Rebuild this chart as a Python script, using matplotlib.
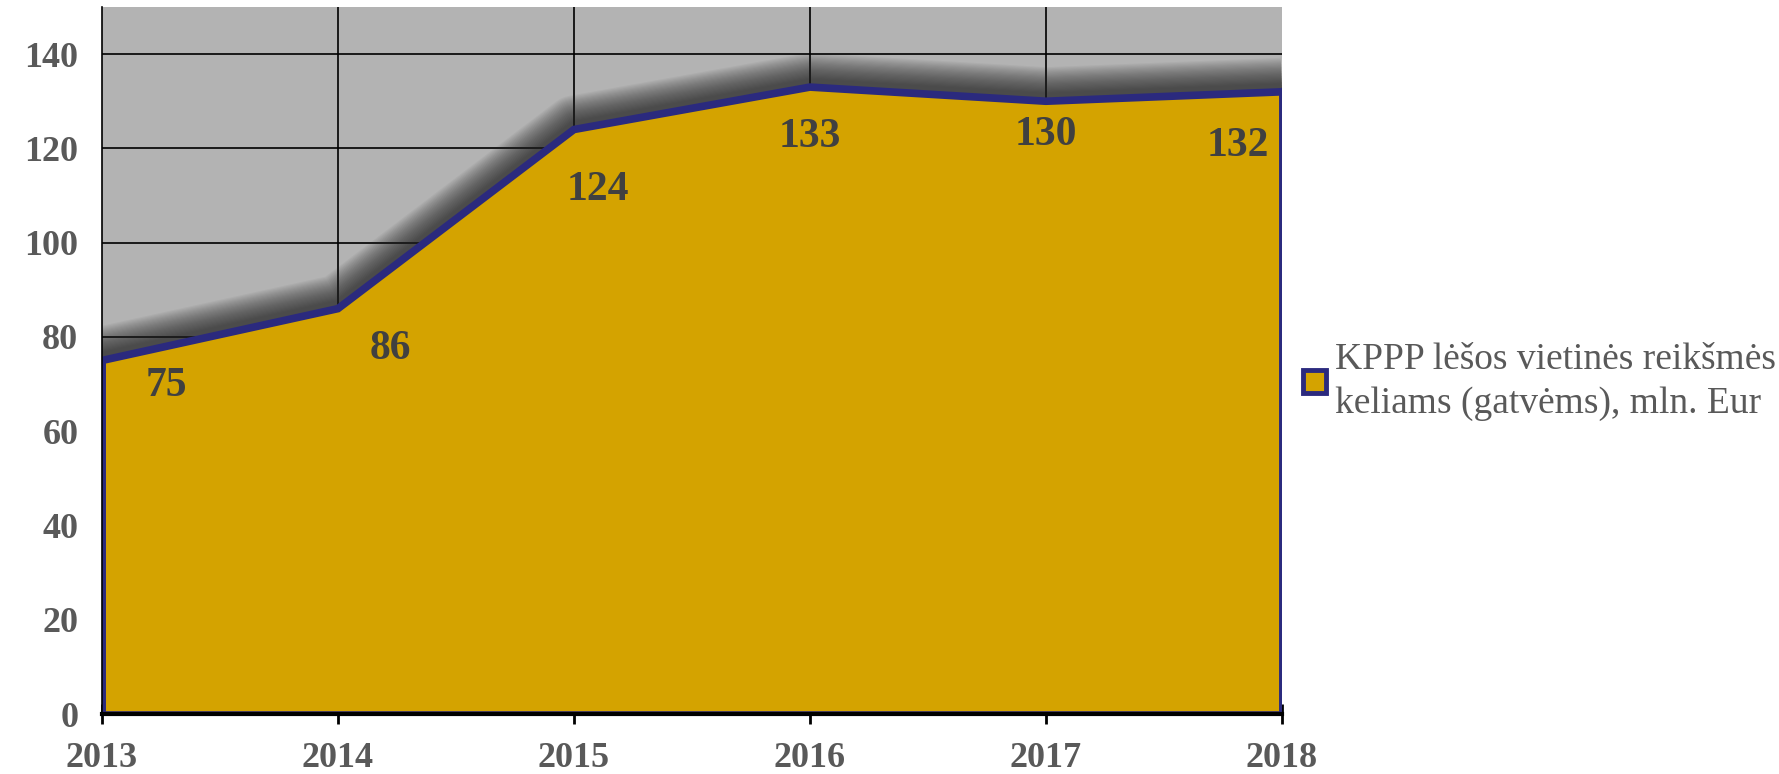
#!/usr/bin/env python3
"""KPPP lėšos vietinės reikšmės keliams (gatvėms), 2013-2018"""

import numpy as np
import matplotlib
matplotlib.use('Agg')
import matplotlib.pyplot as plt
import matplotlib.transforms as mtransforms
from matplotlib.patches import Patch

years = [2013, 2014, 2015, 2016, 2017, 2018]
values = [75, 86, 124, 133, 130, 132]
series_name = 'KPPP lėšos vietinės reikšmės\nkeliams (gatvėms), mln. Eur'

# label offsets (pixels) relative to each point
label_dx = [64, 52, 24, 0, 0, -44]
label_dy = [-26, -40, -60, -50, -34, -54]

FILL = '#d4a300'
EDGE = '#2b2a7e'
BG = '#b3b3b3'
TXT = '#595959'
LBL = '#404040'


def main():
    plt.rcParams['font.family'] = ['Liberation Serif', 'DejaVu Serif']
    fig = plt.figure(figsize=(17.79, 7.74), dpi=100)
    ax = fig.add_axes([0.0573, 0.0775, 0.6633, 0.9135])
    ax.set_facecolor(BG)

    ax.set_xlim(years[0], years[-1])
    ax.set_ylim(0, 150)
    ax.set_xticks(years)
    ax.set_yticks(np.arange(0, 141, 20))

    # gridlines behind everything
    for y in np.arange(20, 141, 20):
        ax.axhline(y, color='black', lw=1.2, zorder=1)
    for x in years[1:-1]:
        ax.axvline(x, color='black', lw=1.2, zorder=1)

    # soft shadow above the line
    off = mtransforms.offset_copy(ax.transData, fig=fig, x=0, y=5, units='dots')
    for k in range(24):
        ax.plot(years, values, color='#202020', lw=5 + 1.6 * k, alpha=0.045,
                solid_capstyle='butt', solid_joinstyle='round', transform=off, zorder=2)

    ax.fill_between(years, values, 0, facecolor=FILL, edgecolor='none', zorder=3)
    ax.plot(years, values, color=EDGE, lw=5.5, solid_joinstyle='miter', zorder=4)
    ax.plot([years[0], years[0]], [0, values[0]], color=EDGE, lw=5, zorder=4)
    ax.plot([years[-1], years[-1]], [0, values[-1]], color=EDGE, lw=5, zorder=4)
    ax.plot([years[0], years[-1]], [0, 0], color=EDGE, lw=4, zorder=4)

    for x, v, dx, dy in zip(years, values, label_dx, label_dy):
        ax.annotate(str(v), (x, v), xytext=(dx, dy), textcoords='offset pixels',
                    ha='center', va='center', fontsize=30, fontweight='bold',
                    color=LBL, zorder=6, annotation_clip=False)

    for side in ['top', 'right']:
        ax.spines[side].set_visible(False)
    ax.spines['left'].set_color('black')
    ax.spines['left'].set_linewidth(1.2)
    ax.spines['left'].set_zorder(5)
    ax.spines['bottom'].set_color('black')
    ax.spines['bottom'].set_linewidth(3)
    ax.spines['bottom'].set_zorder(5)

    ax.tick_params(axis='y', length=0, pad=17, labelsize=26, labelcolor=TXT)
    ax.tick_params(axis='x', direction='inout', length=14, width=2, color='black',
                   pad=13, labelsize=26, labelcolor=TXT)
    for lab in ax.get_xticklabels() + ax.get_yticklabels():
        lab.set_fontweight('bold')

    handle = Patch(facecolor=FILL, edgecolor=EDGE, linewidth=3.5)
    leg = fig.legend([handle], [series_name], loc='upper left',
                     bbox_to_anchor=(0.722, 0.582), frameon=False,
                     fontsize=27, handlelength=0.6, handleheight=0.6,
                     handletextpad=0.25, borderpad=0, labelcolor=TXT)
    for t in leg.get_texts():
        t.set_linespacing(1.35)

    fig.savefig('out.png', dpi=100)
    plt.close(fig)


if __name__ == '__main__':
    main()
